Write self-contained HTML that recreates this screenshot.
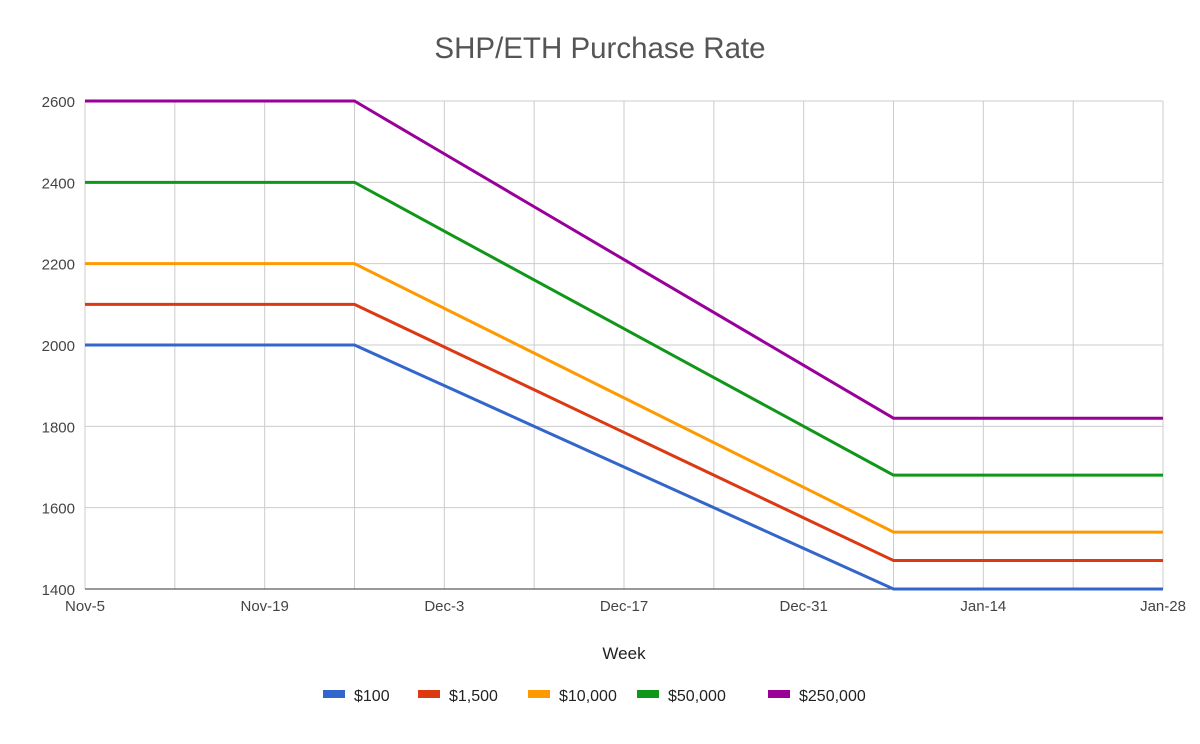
<!DOCTYPE html>
<html><head><meta charset="utf-8"><style>
body{margin:0;background:#fff;}
svg text{font-family:"Liberation Sans",Arial,sans-serif;}
</style></head><body>
<svg id="chart" width="1200" height="739"></svg>
<script>
const categories=["Nov-5","Nov-12","Nov-19","Nov-26","Dec-3","Dec-10","Dec-17","Dec-24","Dec-31","Jan-7","Jan-14","Jan-21","Jan-28"];
const xTickLabels=["Nov-5","Nov-19","Dec-3","Dec-17","Dec-31","Jan-14","Jan-28"];
const yTicks=[1400,1600,1800,2000,2200,2400,2600];
const seriesNames=["$100","$1,500","$10,000","$50,000","$250,000"];
const s100=[2000,2000,2000,2000,1900,1800,1700,1600,1500,1400,1400,1400,1400];
const s1500=[2100,2100,2100,2100,1995,1890,1785,1680,1575,1470,1470,1470,1470];
const s10000=[2200,2200,2200,2200,2090,1980,1870,1760,1650,1540,1540,1540,1540];
const s50000=[2400,2400,2400,2400,2280,2160,2040,1920,1800,1680,1680,1680,1680];
const s250000=[2600,2600,2600,2600,2470,2340,2210,2080,1950,1820,1820,1820,1820];
const colors=["#3366cc","#dc3912","#ff9900","#109618","#990099"];
const allSeries=[s100,s1500,s10000,s50000,s250000];
const svg=document.getElementById('chart');
const NS="http://www.w3.org/2000/svg";
const L=85,R=1163,T=101,B=589,yMin=1400,yMax=2600;
const x=i=>L+(R-L)*i/(categories.length-1);
const y=v=>B-(B-T)*(v-yMin)/(yMax-yMin);
function mk(tag,attrs,txt){const e=document.createElementNS(NS,tag);for(const k in attrs)e.setAttribute(k,attrs[k]);if(txt!==undefined)e.textContent=txt;svg.appendChild(e);return e;}
let t=mk('text',{x:600,y:58,'text-anchor':'middle','font-size':29.5,fill:'#555'},'SHP/ETH Purchase Rate');


categories.forEach((c,i)=>{const g=mk('line',{x1:x(i),x2:x(i),y1:T,y2:B,stroke:'#ccc','stroke-width':1});

});
yTicks.forEach(v=>{const g=mk('line',{x1:L,x2:R,y1:y(v),y2:y(v),stroke:v===yMin?'#333':'#ccc','stroke-width':1});


const lb=mk('text',{x:L-10,y:y(v)+6,'text-anchor':'end','font-size':15,fill:'#444'},String(v));

});
xTickLabels.forEach(l=>{const i=categories.indexOf(l);const lb=mk('text',{x:x(i),y:611,'text-anchor':'middle','font-size':15,fill:'#444'},l);

});
allSeries.forEach((s,k)=>{const p=mk('polyline',{points:s.map((v,i)=>x(i)+','+y(v)).join(' '),fill:'none',stroke:colors[k],'stroke-width':3});

});
t=mk('text',{x:624,y:659,'text-anchor':'middle','font-size':17,fill:'#222'},'Week');


const lx=[323,418,528,637,768];
seriesNames.forEach((n,k)=>{const r=mk('rect',{x:lx[k],y:690,width:22,height:8,fill:colors[k]});


const lb=mk('text',{x:lx[k]+31,y:701,'font-size':16,fill:'#222'},n);

});
</script>
</body></html>
